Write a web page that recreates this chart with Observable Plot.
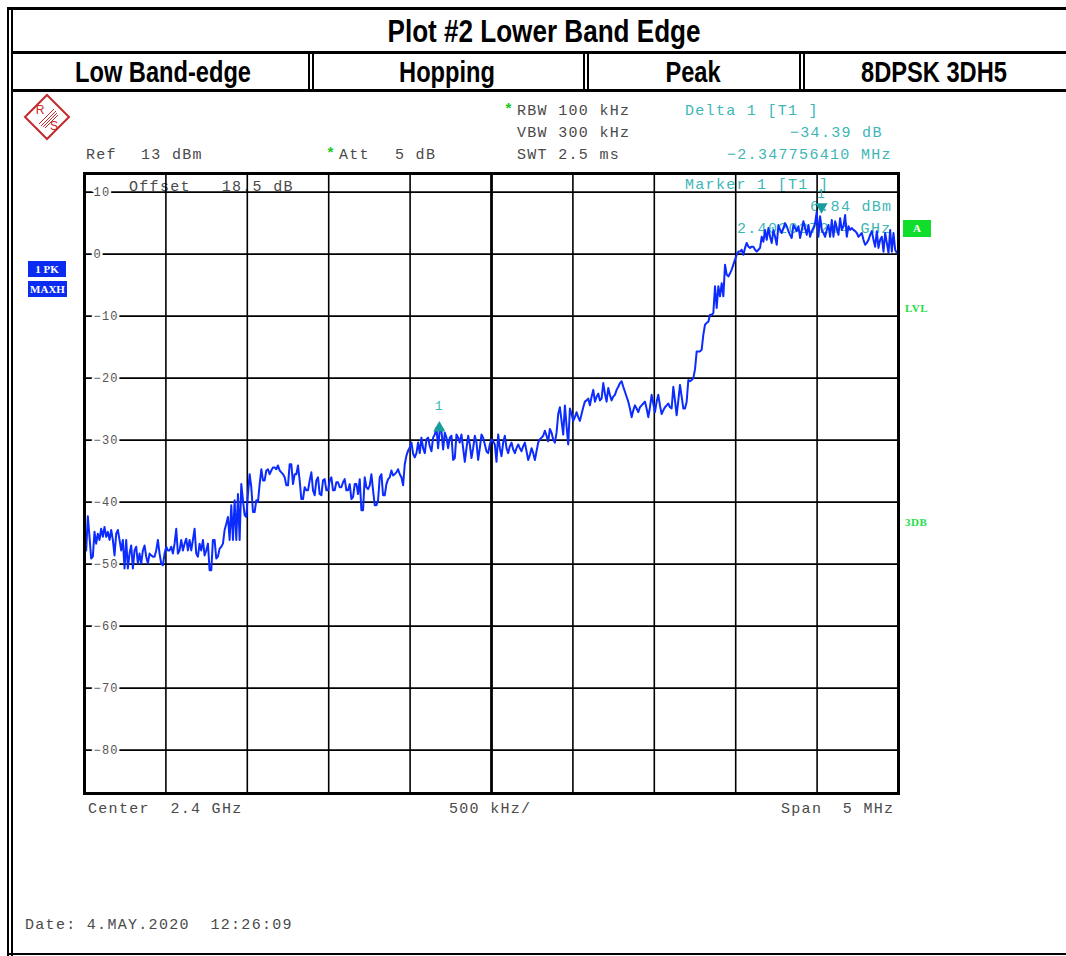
<!DOCTYPE html>
<html><head><meta charset="utf-8">
<script src="https://cdn.jsdelivr.net/npm/d3@7"></script>
<script src="https://cdn.jsdelivr.net/npm/@observablehq/plot@0.6"></script>
<style>
html,body{margin:0;padding:0;background:#fff;}
#page{position:relative;width:1066px;height:956px;overflow:hidden;background:#fff;}
#chart{position:absolute;left:0;top:0;z-index:2;}
#chart svg{background:transparent;}
.ln{position:absolute;background:#000;z-index:3;}
.hdr{position:absolute;font-family:"Liberation Sans",Arial,sans-serif;font-weight:bold;color:#000;white-space:nowrap;line-height:1;transform:translate(-50%,-50%) scaleX(0.815);z-index:3;}
.t{position:absolute;font-family:"Liberation Mono","DejaVu Sans Mono",monospace;font-size:15px;letter-spacing:1.3px;line-height:1;white-space:pre;color:#4a4a4a;transform:translateY(-50%);z-index:1;}
.teal{color:#3db6b6;}
.star{color:#1cc81c;font-weight:bold;}
.box{position:absolute;font-family:"Liberation Serif","DejaVu Serif",serif;font-weight:bold;font-size:11px;color:#fff;text-align:center;line-height:1;display:flex;align-items:center;justify-content:center;z-index:3;}
.gtxt{position:absolute;font-family:"Liberation Serif","DejaVu Serif",serif;font-weight:bold;font-size:11px;color:#22dd44;line-height:1;transform:translateY(-50%);letter-spacing:0.5px;z-index:3;}
</style>
</head><body>
<div id="page"></div>
<script>
// ---------------- data ----------------
const titleText = "Plot #2 Lower Band Edge";
const headerCells = ["Low Band-edge", "Hopping", "Peak", "8DPSK 3DH5"];
const sweepStartMHz = 2397.5;   // Center 2.4 GHz, Span 5 MHz
const sweepStopMHz = 2402.5;
const yTicks = [10, 0, -10, -20, -30, -40, -50, -60, -70, -80];
const yDomain = [-87, 13];       // Ref 13 dBm, 10 dB/div
const xGrid = [2398, 2398.5, 2399, 2399.5, 2400.5, 2401, 2401.5, 2402];
const xCentre = [2400];
const marker1 = {freqMHz: 2402.027244, dbm: 6.84};
const delta1 = {freqMHz: -2.347756410, db: -34.39};
const instrumentLeft = ["Ref", "13 dBm", "Att", "5 dB"];
const instrumentBw = ["RBW 100 kHz", "VBW 300 kHz", "SWT 2.5 ms"];
const footer = ["Center  2.4 GHz", "500 kHz/", "Span  5 MHz", "Date: 4.MAY.2020  12:26:09"];
const offsetText = "Offset   18.5 dB";

// trace (dBm), sweep points evenly spaced from start to stop frequency
const traceDbm = [
-47.5,-47.8,-42.3,-45.6,-49.1,-48.8,-44.8,-46.7,-45.1,-46.1,
-44.3,-45.6,-44.0,-45.6,-44.8,-46.1,-44.5,-46.1,-48.6,-45.1,
-44.5,-46.1,-47.8,-46.1,-50.7,-46.1,-50.7,-48.3,-47.0,-50.7,
-47.8,-47.2,-49.9,-48.3,-49.9,-47.8,-47.0,-48.8,-49.9,-48.3,
-48.6,-48.8,-48.8,-47.8,-46.1,-48.3,-49.9,-50.2,-48.3,-47.2,
-47.8,-47.8,-47.2,-48.3,-46.7,-44.3,-48.3,-47.8,-46.1,-47.8,
-46.7,-45.9,-47.8,-46.1,-47.8,-46.1,-44.3,-48.3,-48.8,-46.7,
-47.8,-46.1,-48.6,-47.8,-46.7,-51.0,-51.0,-46.1,-46.1,-49.1,
-48.8,-47.5,-47.2,-46.7,-44.5,-43.5,-42.4,-46.1,-40.5,-46.1,
-39.7,-46.1,-38.7,-46.1,-37.1,-39.7,-42.1,-42.4,-38.7,-35.5,
-37.6,-41.6,-41.6,-39.7,-40.0,-37.1,-34.7,-36.5,-36.5,-34.9,
-34.7,-35.5,-34.9,-34.4,-34.4,-34.7,-34.1,-34.9,-35.2,-35.5,
-36.0,-37.3,-37.3,-33.9,-33.9,-37.1,-35.5,-35.5,-34.1,-36.5,
-39.5,-39.5,-37.6,-38.1,-38.1,-36.5,-35.2,-38.1,-38.9,-36.5,
-36.0,-38.7,-38.9,-36.5,-36.3,-38.1,-38.1,-36.5,-36.0,-38.1,
-38.1,-36.8,-36.8,-37.6,-37.6,-36.8,-36.3,-38.1,-38.1,-37.1,
-39.5,-39.2,-37.1,-37.1,-38.7,-36.3,-41.3,-41.3,-36.0,-37.6,
-37.9,-37.3,-35.5,-38.1,-40.5,-40.5,-39.7,-36.0,-35.5,-38.9,
-38.9,-37.1,-36.3,-36.0,-34.9,-35.7,-35.5,-35.2,-34.7,-35.5,
-36.0,-37.3,-33.9,-32.5,-31.7,-31.2,-30.4,-32.2,-32.8,
-32.1,-30.4,-32.1,-29.6,-31.3,-32.1,-29.9,-29.6,-31.0,-31.8,
-29.6,-29.1,-28.0,-31.3,-28.2,-28.5,-31.5,-28.8,-29.6,-31.3,
-29.6,-29.3,-33.2,-32.9,-29.1,-29.6,-30.4,-29.1,-31.3,-33.5,
-31.3,-29.3,-30.7,-32.9,-31.3,-29.3,-30.4,-33.2,-31.3,-29.1,
-29.6,-30.7,-31.8,-32.1,-30.7,-29.9,-30.2,-30.7,-33.5,-29.1,
-31.3,-32.6,-30.4,-29.3,-31.3,-32.1,-31.0,-30.4,-31.5,-32.1,
-31.3,-30.7,-31.3,-31.8,-31.0,-30.4,-31.8,-33.2,-32.4,-31.3,
-32.1,-33.2,-31.8,-30.4,-29.9,-29.6,-29.3,-28.5,-29.3,-30.2,
-28.2,-28.8,-29.9,-30.4,-28.8,-25.8,-24.7,-26.9,-29.1,-24.4,
-27.7,-30.7,-24.9,-25.8,-26.9,-26.3,-25.5,-26.3,-26.9,-25.8,
-24.7,-23.8,-23.6,-23.3,-24.4,-23.0,-21.9,-23.8,-23.0,-22.5,
-23.6,-23.3,-20.8,-22.5,-23.8,-21.6,-22.7,-23.6,-23.0,-22.7,
-21.9,-21.4,-20.8,-20.5,-21.4,-22.2,-23.0,-23.8,-24.9,-26.3,
-25.2,-24.4,-24.9,-25.5,-24.7,-24.4,-24.1,-23.8,-24.9,-26.3,
-24.7,-22.7,-24.1,-25.5,-23.8,-22.7,-24.4,-25.8,-25.2,-24.7,
-24.4,-24.1,-24.7,-24.9,-21.4,-23.6,-26.0,-23.6,-21.1,-23.0,
-24.9,-24.9,-23.8,-20.3,-20.5,-20.3,-20.0,-18.6,
-15.7,-15.7,-15.7,-15.4,-13.0,-11.4,-11.1,-10.9,-9.8,-9.8,
-9.5,-5.2,-8.7,-5.2,-6.8,-4.7,-6.8,-1.7,-3.3,-3.6,
-3.1,-2.5,-1.7,-0.9,-0.1,0.4,0.4,0.7,-0.1,1.0,
1.8,1.2,1.0,1.2,1.2,0.7,0.4,0.7,1.0,2.8,
2.0,3.9,2.3,4.2,2.8,1.8,3.9,2.8,1.5,4.7,
3.9,3.4,4.2,5.0,4.5,3.7,3.1,2.6,4.7,4.2,
3.7,4.5,2.6,3.9,5.3,4.2,3.1,4.7,2.8,3.7,
4.2,5.0,6.84,2.8,6.1,3.9,3.4,2.8,3.9,4.7,
2.8,5.5,2.8,5.3,4.2,3.1,5.8,3.9,4.5,6.3,
2.8,4.5,3.9,4.2,3.9,3.7,3.4,2.8,3.1,3.4,
2.3,1.5,1.8,2.3,3.1,3.7,2.3,1.2,3.7,1.0,
2.3,2.8,0.4,3.4,1.8,0.2,3.9,0.4,3.4,0.7,
0.2,-0.1
];

// ---------------- build ----------------
const page = document.getElementById("page");
const step = (sweepStopMHz - sweepStartMHz) / (traceDbm.length - 1);
const trace = traceDbm.map((v, i) => ({f: sweepStartMHz + i * step, dbm: v}));
const minus = s => s.replace(/-/g, "\u2212");

const m1 = {f: marker1.freqMHz, dbm: marker1.dbm};
const d1 = {f: marker1.freqMHz + delta1.freqMHz, dbm: marker1.dbm + delta1.db};
const teal = "#3db6b6";
const mono = "'Liberation Mono','DejaVu Sans Mono',monospace";

const chart = Plot.plot({
  width: 1066, height: 956,
  marginLeft: 84, marginRight: 168, marginTop: 173, marginBottom: 163,
  x: {domain: [sweepStartMHz, sweepStopMHz], axis: null},
  y: {domain: yDomain, axis: null},
  style: {background: "transparent", fontFamily: mono, letterSpacing: "1.2px"},
  marks: [
    Plot.ruleY(yTicks, {y: d => d, stroke: "#000", strokeWidth: 1.6}),
    Plot.ruleX(xGrid, {x: d => d, stroke: "#000", strokeWidth: 1.6}),
    Plot.ruleX(xCentre, {x: d => d, stroke: "#000", strokeWidth: 2.8}),
    Plot.text(yTicks, {y: d => d, frameAnchor: "left", dx: 9, text: d => minus(String(d)),
      textAnchor: "start", fill: "#555", stroke: "white", strokeWidth: 5, paintOrder: "stroke", fontSize: 12}),
    Plot.line(trace, {x: "f", y: "dbm", stroke: "#0b2bff", strokeWidth: 2}),
    Plot.dot([m1], {x: "f", y: "dbm", symbol: "triangle", rotate: 180, r: 4.5, fill: "#189c9c", dy: -5}),
    Plot.dot([d1], {x: "f", y: "dbm", symbol: "triangle", r: 4.5, fill: "#189c9c", dy: 3}),
    Plot.text([m1], {x: "f", y: "dbm", text: () => "1", dy: -18, fill: teal, fontSize: 13}),
    Plot.text([d1], {x: "f", y: "dbm", text: () => "1", dy: -19, fill: teal, fontSize: 13}),
    Plot.frame({stroke: "#000", strokeWidth: 3})
  ]
});
const holder = document.createElement("div");
holder.id = "chart";
holder.appendChild(chart);
page.appendChild(holder);

function line(l, t, w, h) {
  const d = document.createElement("div");
  d.className = "ln";
  Object.assign(d.style, {left: l + "px", top: t + "px", width: w + "px", height: h + "px"});
  page.appendChild(d);
}
function txt(cls, l, cy, s, extra) {
  const d = document.createElement("div");
  d.className = cls;
  d.textContent = s;
  d.style.left = l + "px";
  d.style.top = cy + "px";
  if (extra) Object.assign(d.style, extra);
  page.appendChild(d);
  return d;
}
// frame lines
line(7, 7, 1059, 3);
line(7, 7, 2, 949);
line(11, 10, 2, 946);
line(11, 51, 1055, 3);
line(11, 89, 1055, 3);
line(7, 953, 1059, 2);
[[308, 312], [583, 587], [799, 803]].forEach(([a, b]) => { line(a, 54, 2, 35); line(b, 54, 2, 35); });

// header texts
const hdrTitle = document.createElement("div");
hdrTitle.className = "hdr";
hdrTitle.textContent = titleText;
Object.assign(hdrTitle.style, {left: "543.5px", top: "31px", fontSize: "32px"});
page.appendChild(hdrTitle);
const cellCenters = [163, 447, 693, 934];
headerCells.forEach((s, i) => {
  const d = document.createElement("div");
  d.className = "hdr";
  d.textContent = s;
  Object.assign(d.style, {left: cellCenters[i] + "px", top: "72px", fontSize: "29px"});
  page.appendChild(d);
});

// R&S logo
const logo = document.createElement("div");
logo.style.cssText = "position:absolute;left:22px;top:92px;width:50px;height:50px;z-index:3;";
logo.innerHTML = `<svg width="50" height="50" viewBox="0 0 50 50">
 <polygon points="25,3 47,25 25,47 3,25" fill="none" stroke="#c42a2a" stroke-width="2"/>
 <g stroke="#c42a2a" stroke-width="1">
  <line x1="19" y1="34" x2="34" y2="19"/><line x1="21" y1="35" x2="35" y2="21"/>
  <line x1="17" y1="32" x2="32" y2="17"/><line x1="23" y1="36" x2="36" y2="23"/>
 </g>
 <text x="18" y="22" font-family="Liberation Sans, Arial" font-size="12" fill="#c42a2a" text-anchor="middle">R</text>
 <text x="32" y="38" font-family="Liberation Sans, Arial" font-size="12" fill="#c42a2a" text-anchor="middle">S</text>
</svg>`;
page.appendChild(logo);

// instrument settings
txt("t star", 504, 110, "*");
txt("t", 517, 111, instrumentBw[0]);
txt("t", 517, 133, instrumentBw[1]);
txt("t", 517, 155, instrumentBw[2]);
txt("t", 86, 155, instrumentLeft[0]);
txt("t", 141, 155, instrumentLeft[1]);
txt("t star", 326, 154, "*");
txt("t", 339, 155, instrumentLeft[2]);
txt("t", 395, 155, instrumentLeft[3]);
txt("t teal", 685, 111, "Delta 1 [T1 ]");
txt("t teal", 790, 133, minus(delta1.db.toFixed(2) + " dB"));
txt("t teal", 727, 155, minus(delta1.freqMHz.toFixed(9) + " MHz"));
txt("t teal", 685, 185, "Marker 1 [T1 ]");
txt("t teal", 810, 207, marker1.dbm.toFixed(2) + " dBm");
txt("t teal", 737, 229, (marker1.freqMHz / 1000).toFixed(9) + " GHz");
txt("t", 129, 187, offsetText);
txt("t", 88, 809, footer[0]);
txt("t", 449, 809, footer[1]);
txt("t", 781, 809, footer[2]);
txt("t", 25, 925, footer[3]);

// trace / detector boxes
function box(l, t, w, h, bg, s) {
  const d = document.createElement("div");
  d.className = "box";
  d.textContent = s;
  Object.assign(d.style, {left: l + "px", top: t + "px", width: w + "px", height: h + "px", background: bg});
  page.appendChild(d);
}
box(28, 261, 38, 16, "#0a2cf0", "1 PK");
box(28, 281, 39, 16, "#0a2cf0", "MAXH");
box(903, 220, 28, 17, "#10dd2c", "A");
txt("gtxt", 905, 308, "LVL");
txt("gtxt", 905, 522, "3DB");
</script>
</body></html>
